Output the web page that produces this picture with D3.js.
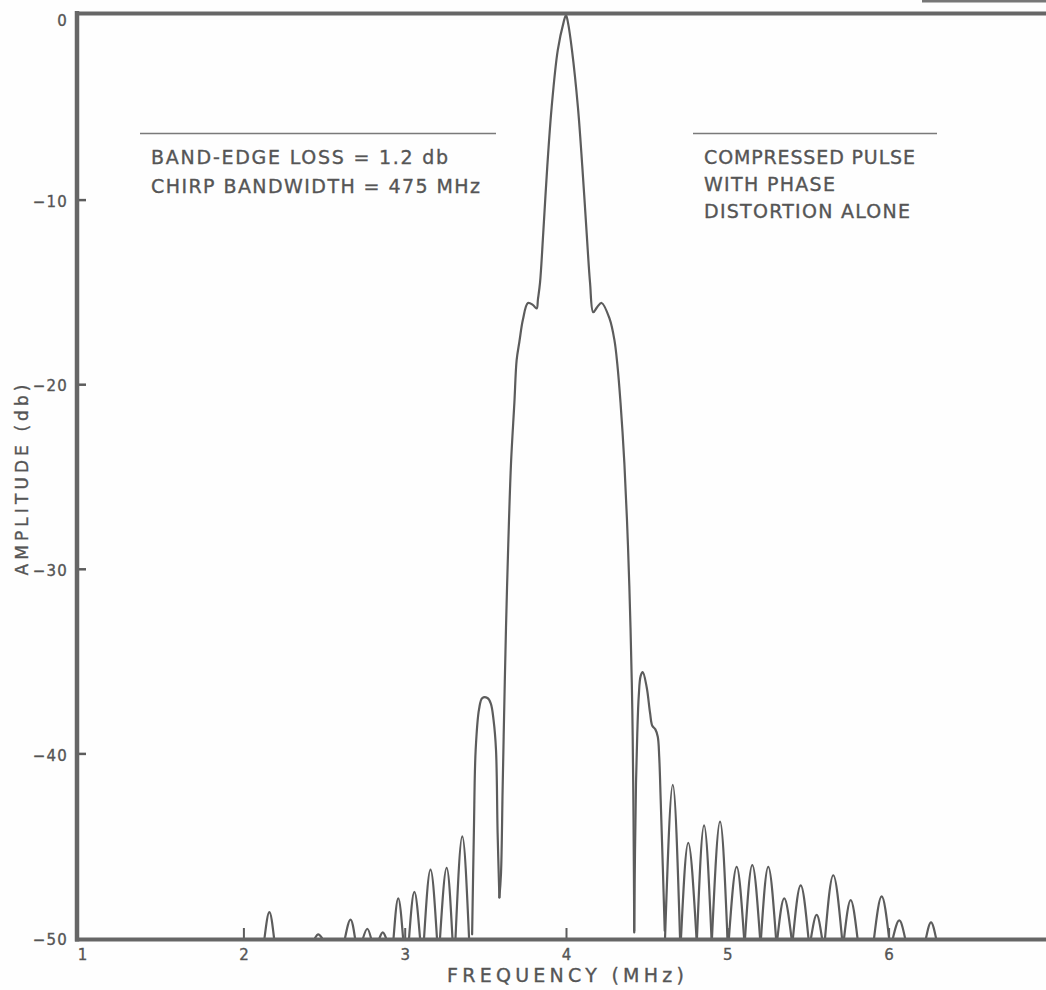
<!DOCTYPE html>
<html><head><meta charset="utf-8">
<script src="https://cdn.jsdelivr.net/npm/d3@7"></script>
<style>
  body{margin:0;background:#fff;}
  text{font-family:"DejaVu Sans","Liberation Sans",sans-serif;fill:#555;stroke:#555;stroke-width:0.35px;}
</style>
</head><body>
<svg id="chart" width="1046" height="990"></svg>
<script>
// ---------------- data ----------------
const xTicks = [1, 2, 3, 4, 5, 6, 7];
const yTicks = [0, -10, -20, -30, -40, -50];

// main lobe with band-edge shoulders: frequency (MHz) / amplitude (dB)
const mainFreq = [3.587, 3.597, 3.607, 3.617, 3.628, 3.642, 3.659, 3.680, 3.694, 3.711, 3.733, 3.764, 3.794, 3.818, 3.826, 3.839, 3.859, 3.884, 3.911, 3.949, 3.985, 4.000, 4.012, 4.037, 4.074, 4.101, 4.128, 4.149, 4.169, 4.195, 4.221, 4.270, 4.300, 4.318, 4.338, 4.362, 4.384, 4.400, 4.411, 4.417, 4.421, 4.423];
const mainAmp  = [-47.8, -46.5, -42.0, -37.6, -33.2, -28.7, -24.3, -21.0, -18.7, -17.7, -16.5, -15.6, -15.7, -15.9, -15.4, -14.5, -11.8, -8.2, -5.0, -1.9, -0.4, 0.0, -0.4, -1.9, -5.0, -8.2, -11.8, -14.5, -16.1, -15.8, -15.6, -16.45, -17.6, -18.9, -21.0, -24.3, -28.7, -33.2, -37.6, -42.0, -46.5, -49.7];

// first sidelobe, low side
const leftLobeFreq = [3.418, 3.429, 3.440, 3.461, 3.481, 3.513, 3.534, 3.551, 3.566, 3.576, 3.587];
const leftLobeAmp  = [-49.8, -44.2, -39.8, -37.6, -37.0, -37.0, -37.3, -38.2, -39.8, -44.3, -47.8];

// first sidelobe, high side (with knee)
const rightLobeFreq = [4.423, 4.428, 4.434, 4.442, 4.451, 4.463, 4.476, 4.500, 4.521, 4.535, 4.554, 4.569, 4.578, 4.587, 4.600, 4.612];
const rightLobeAmp  = [-49.6, -45.2, -41.6, -38.9, -36.9, -35.8, -35.6, -36.4, -37.8, -38.5, -38.7, -39.1, -40.2, -42.5, -46.1, -49.6];

// remaining sidelobes: peak frequency, peak amplitude, null before, null after
const sideFreq  = [2.161, 2.464, 2.664, 2.768, 2.864, 2.960, 3.060, 3.160, 3.260, 3.357,
                   4.662, 4.758, 4.856, 4.955, 5.058, 5.155, 5.254, 5.353, 5.455, 5.554, 5.657, 5.765, 5.957, 6.066, 6.263];
const sideAmp   = [-48.6, -49.8, -49.0, -49.5, -49.7, -47.85, -47.5, -46.3, -46.2, -44.5,
                   -41.7, -44.85, -43.9, -43.7, -46.15, -46.05, -46.15, -47.85, -47.15, -48.75, -46.6, -47.95, -47.75, -49.05, -49.15];
const sideNullL = [2.131, 2.444, 2.630, 2.742, 2.844, 2.931, 3.027, 3.120, 3.219, 3.315,
                   4.614, 4.713, 4.812, 4.905, 5.010, 5.110, 5.209, 5.311, 5.407, 5.519, 5.606, 5.724, 5.910, 6.027, 6.232];
const sideNullR = [2.190, 2.487, 2.692, 2.791, 2.884, 2.990, 3.095, 3.200, 3.296, 3.399,
                   4.707, 4.809, 4.902, 5.001, 5.104, 5.203, 5.302, 5.398, 5.503, 5.587, 5.711, 5.807, 6.003, 6.102, 6.294];

const annotLeft  = ["BAND-EDGE LOSS = 1.2 db", "CHIRP BANDWIDTH = 475 MHz"];
const annotRight = ["COMPRESSED PULSE", "WITH PHASE", "DISTORTION ALONE"];

// ---------------- drawing ----------------
const svg = d3.select("#chart");
const ink = "#5c5c5c";

const x = d3.scaleLinear().domain([1, 7]).range([82.1, 1049.9]);
const y = d3.scaleLinear().domain([-50, 0]).range([938, 15]);

svg.append("rect").attr("width", 1046).attr("height", 990).attr("fill", "#fefefe");

// curve
const g = svg.append("g").attr("fill", "none").attr("stroke", ink)
  .attr("stroke-width", 2.2).attr("stroke-linejoin", "round").attr("stroke-linecap", "round");

const smooth = d3.line().x(d => x(d[0])).y(d => y(d[1])).curve(d3.curveCatmullRom.alpha(0.5));
const arch = d3.line().x(d => x(d[0])).y(d => y(d[1])).curve(d3.curveNatural);

g.append("path").attr("d", smooth(mainFreq.map((f, i) => [f, mainAmp[i]])));
g.append("path").attr("d", smooth(leftLobeFreq.map((f, i) => [f, leftLobeAmp[i]])));
g.append("path").attr("d", smooth(rightLobeFreq.map((f, i) => [f, rightLobeAmp[i]])));
sideFreq.forEach((f, i) => {
  g.append("path").attr("d", arch([[sideNullL[i], -50], [f, sideAmp[i]], [sideNullR[i], -50]]));
});

// axes
const yAxis = d3.axisLeft(y).tickValues(yTicks).tickSizeInner(-9).tickSizeOuter(0).tickPadding(9)
  .tickFormat(d => d === 0 ? "0" : "\u2212" + Math.abs(d));
const ya = svg.append("g").attr("transform", "translate(77,0)").call(yAxis);
ya.select(".domain").remove();
ya.selectAll("line").attr("stroke", ink).attr("stroke-width", 2.5);
ya.selectAll("text").attr("font-size", 15).attr("letter-spacing", 1.2)
  .attr("font-family", "DejaVu Sans").attr("fill", "#555").attr("dy", "0.45em");
ya.selectAll(".tick").filter(d => d === 0).select("text").attr("dy", "0.7em");
ya.selectAll(".tick").filter(d => d === 0 || d === -50).select("line").remove();

const xAxis = d3.axisBottom(x).tickValues(xTicks).tickSizeInner(-11).tickSizeOuter(0).tickPadding(10)
  .tickFormat(d3.format("d"));
const xa = svg.append("g").attr("transform", "translate(0,939)").call(xAxis);
xa.select(".domain").remove();
xa.selectAll("line").attr("stroke", ink).attr("stroke-width", 2);
xa.selectAll(".tick").filter(d => d === 1).select("line").remove();
xa.selectAll("text").attr("font-size", 15).attr("font-family", "DejaVu Sans").attr("fill", "#555");

// frame lines
svg.append("line").attr("x1", 75).attr("x2", 1046).attr("y1", 939.5).attr("y2", 939.5)
  .attr("stroke", "#666").attr("stroke-width", 4);
svg.append("line").attr("x1", 77).attr("x2", 77).attr("y1", 11).attr("y2", 941.5)
  .attr("stroke", "#666").attr("stroke-width", 4.5);
svg.append("line").attr("x1", 75).attr("x2", 1046).attr("y1", 13.5).attr("y2", 13.5)
  .attr("stroke", "#666").attr("stroke-width", 4);
svg.append("line").attr("x1", 922).attr("x2", 1046).attr("y1", 1.2).attr("y2", 1.2)
  .attr("stroke", "#777").attr("stroke-width", 2.5);

// axis titles
svg.append("text").attr("x", 565.5).attr("y", 982).attr("text-anchor", "middle")
  .attr("font-size", 19).attr("textLength", 237).attr("lengthAdjust", "spacing")
  .text("FREQUENCY (MHz)");
svg.append("text").attr("transform", "translate(28,480) rotate(-90)").attr("text-anchor", "middle")
  .attr("font-size", 17).attr("textLength", 191).attr("lengthAdjust", "spacing")
  .text("AMPLITUDE (db)");

// annotations
svg.append("line").attr("x1", 140).attr("x2", 496).attr("y1", 133.5).attr("y2", 133.5)
  .attr("stroke", "#7a7a7a").attr("stroke-width", 1.6);
const leftLens = [297, 329];
const leftBase = [164, 193];
annotLeft.forEach((t, i) => {
  svg.append("text").attr("x", 151).attr("y", leftBase[i]).attr("font-size", 19)
    .attr("textLength", leftLens[i]).attr("lengthAdjust", "spacing").text(t);
});
svg.append("line").attr("x1", 693).attr("x2", 937).attr("y1", 133.5).attr("y2", 133.5)
  .attr("stroke", "#7a7a7a").attr("stroke-width", 1.6);
const rightLens = [211, 131, 206];
const rightBase = [164, 191, 218];
annotRight.forEach((t, i) => {
  svg.append("text").attr("x", 704).attr("y", rightBase[i]).attr("font-size", 19)
    .attr("textLength", rightLens[i]).attr("lengthAdjust", "spacing").text(t);
});
</script>
</body></html>
